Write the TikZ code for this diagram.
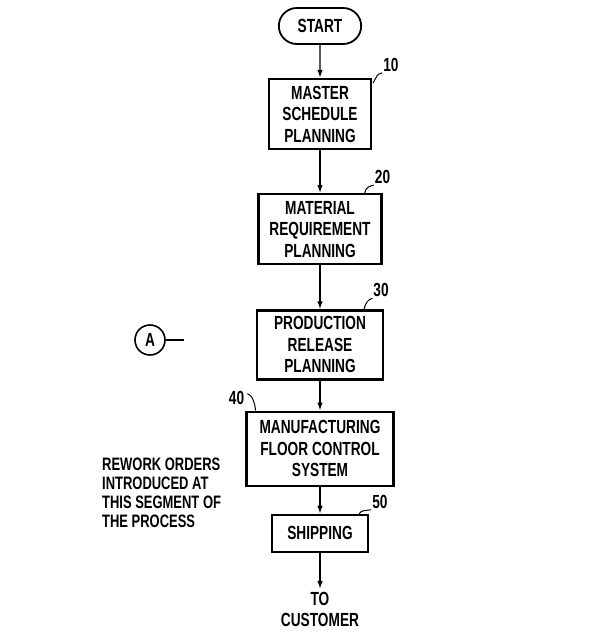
\documentclass[tikz,border=0pt]{standalone}
\usepackage{fontspec}
\setmainfont[FakeStretch=0.72]{Liberation Sans}
\usetikzlibrary{
  arrows.meta,
  positioning,
  shapes.misc
}
\newcommand\boxfont{\fontsize{19}{21.5}\selectfont\bfseries}
\newcommand\notefont{\fontsize{18}{19}\selectfont\bfseries}

\begin{document}
\begin{tikzpicture}[x=1pt, y=-1pt,
  terminal/.style={rounded rectangle, draw, line width=1.8pt, minimum width=89pt, minimum height=36pt, font=\boxfont},
  procbox/.style={rectangle, draw, line width=2.2pt, align=center, font=\boxfont, inner sep=2pt},
  refnum/.style={font=\boxfont, inner sep=1pt},
  flow/.style={line width=1.4pt, -{Latex[length=8pt,width=5.5pt]}},
  leader/.style={line width=1pt}
]
  \useasboundingbox (0,0) rectangle (597,636);

  % main chain
  \node[terminal] (start) at (320,26) {START};
  \node[procbox, below=33pt of start, minimum width=102pt, minimum height=70pt] (mps) {MASTER\\SCHEDULE\\PLANNING};
  \node[procbox, below=43pt of mps, minimum width=123pt, minimum height=70pt] (mrp) {MATERIAL\\REQUIREMENT\\PLANNING};
  \node[procbox, below=44pt of mrp, minimum width=126pt, minimum height=69pt] (prp) {PRODUCTION\\RELEASE\\PLANNING};
  \node[procbox, below=30pt of prp, minimum width=147pt, minimum height=74pt] (mfc) {MANUFACTURING\\FLOOR CONTROL\\SYSTEM};
  \node[procbox, below=27pt of mfc, minimum width=96pt, minimum height=37pt] (ship) {SHIPPING};
  \node[align=center, font=\boxfont, inner sep=3pt, below=36pt of ship] (cust) {TO\\CUSTOMER};

  \draw[flow] (start) -- (mps);
  \draw[flow] (mps) -- (mrp);
  \draw[flow] (mrp) -- (prp);
  \draw[flow] (prp) -- (mfc);
  \draw[flow] (mfc) -- (ship);
  \draw[flow] (ship) -- (cust);

  % reference numerals
  \node[refnum, above right=5pt and 10pt of mps.north east] (n10) {10};
  \node[refnum, above=8pt of mrp.north east] (n20) {20};
  \node[refnum, above=11pt of prp.north east, xshift=-3pt] (n30) {30};
  \node[refnum, above left=5pt and 0pt of mfc.north west] (n40) {40};
  \node[refnum, above right=4pt and 2pt of ship.north east] (n50) {50};

  \draw[leader] ([shift={(1,5)}]mps.north east) .. controls +(4,-7) and +(-5,1) .. (n10.south west);
  \draw[leader] ([xshift=-18pt]mrp.north east) .. controls +(1,-6) and +(-4,1) .. (n20.south west);
  \draw[leader] ([xshift=-20pt]prp.north east) .. controls +(1,-6) and +(-4,1) .. (n30.south west);
  \draw[leader] ([shift={(2,4)}]n40.north east) .. controls +(5,1) and +(0,-6) .. ([xshift=10pt]mfc.north west);
  \draw[leader] ([xshift=-10pt]ship.north east) .. controls +(2,-4) and +(-4,1) .. (n50.south west);

  % off-page connector
  \node[circle, draw, line width=1.6pt, minimum size=30pt, font=\boxfont, inner sep=0pt] (conA) at (150,340) {A};
  \coordinate (conAend) at (184,340);
  \draw[line width=1.2pt] (conA) -- (conAend);

  % note
  \node[anchor=north west, align=left, font=\notefont, inner sep=0pt] (note) at (102,458)
    {REWORK ORDERS\\INTRODUCED AT\\THIS SEGMENT OF\\THE PROCESS};
\end{tikzpicture}
\end{document}
